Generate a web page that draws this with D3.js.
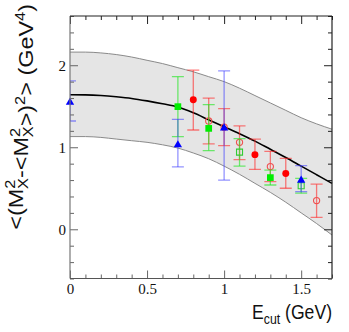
<!DOCTYPE html>
<html>
<head>
<meta charset="utf-8">
<script src="https://cdn.jsdelivr.net/npm/d3@7"></script>
<style>
body { margin: 0; background: #fff; }
</style>
</head>
<body>
<script>
var w = 349;
var h = 332;

// theory band
var bandE     = [0, 0.1, 0.2, 0.3, 0.4, 0.5, 0.6, 0.7, 0.8, 0.9, 1.0, 1.1, 1.2, 1.3, 1.4, 1.5, 1.6, 1.7];
var bandMid   = [1.64, 1.638, 1.63, 1.615, 1.595, 1.565, 1.53, 1.49, 1.42, 1.335, 1.25, 1.165, 1.075, 0.975, 0.875, 0.77, 0.665, 0.56];
var bandUpper = [2.16, 2.16, 2.15, 2.13, 2.10, 2.06, 2.02, 1.97, 1.92, 1.86, 1.80, 1.72, 1.63, 1.54, 1.45, 1.36, 1.285, 1.22];
var bandLower = [1.13, 1.13, 1.12, 1.10, 1.08, 1.06, 1.03, 0.99, 0.93, 0.86, 0.77, 0.67, 0.56, 0.45, 0.33, 0.20, 0.07, -0.07];

// measurements
var redFullE  = [0.8, 1.2, 1.4];
var redFullY  = [1.58, 0.91, 0.68];
var redFullHi = [1.94, 1.10, 0.865];
var redFullLo = [1.21, 0.73, 0.50];

var redOpenE  = [0.9, 1.0, 1.1, 1.3, 1.6];
var redOpenY  = [1.32, 1.245, 1.06, 0.765, 0.35];
var redOpenHi = [1.60, 1.47, 1.26, 0.95, 0.55];
var redOpenLo = [1.04, 1.02, 0.85, 0.58, 0.145];

var greenFullE  = [0.7, 0.9, 1.3];
var greenFullY  = [1.495, 1.23, 0.63];
var greenFullHi = [1.86, 1.52, 0.72];
var greenFullLo = [1.13, 0.96, 0.54];

var greenOpenE  = [1.1, 1.5];
var greenOpenY  = [0.94, 0.53];
var greenOpenHi = [1.105, 0.62];
var greenOpenLo = [0.77, 0.44];

var blueE  = [0.0, 0.7, 1.0, 1.5];
var blueY  = [1.56, 1.04, 1.245, 0.61];
var blueHi = [1.81, 1.34, 1.93, 0.775];
var blueLo = [1.32, 0.76, 0.60, 0.46];

var xMajor = [0, 0.5, 1, 1.5];
var xTickLabels = ["0", "0.5", "1", "1.5"];
var yMajor = [0, 1, 2];
var yTickLabels = ["0", "1", "2"];

var pLeft = 70, pRight = 332, pTop = 16, pBottom = 278.5;

var x = d3.scaleLinear().domain([0, 1.7]).range([pLeft, pRight]);
var y = d3.scaleLinear().domain([-0.6, 2.6]).range([pBottom, pTop]);

var svg = d3.select("body")
	.append("svg")
	.attr("width", w)
	.attr("height", h);

svg.append("clipPath").attr("id", "plot")
	.append("rect")
	.attr("x", pLeft).attr("y", pTop)
	.attr("width", pRight - pLeft).attr("height", pBottom - pTop);

// band
var band = bandE.map(function(e, i){ return {e: e, lo: bandLower[i], hi: bandUpper[i], mid: bandMid[i]}; });
svg.append("path")
	.datum(band)
	.attr("d", d3.area()
		.x(function(d){ return x(d.e); })
		.y0(function(d){ return y(d.lo); })
		.y1(function(d){ return y(d.hi); })
		.curve(d3.curveMonotoneX))
	.attr("fill", "#e5e5e5");

["lo", "hi"].forEach(function(k){
	svg.append("path")
		.datum(band)
		.attr("d", d3.line()
			.x(function(d){ return x(d.e); })
			.y(function(d){ return y(d[k]); })
			.curve(d3.curveMonotoneX))
		.attr("fill", "none")
		.attr("stroke", "#8a8a8a")
		.attr("stroke-width", 1);
});

svg.append("path")
	.datum(band)
	.attr("d", d3.line()
		.x(function(d){ return x(d.e); })
		.y(function(d){ return y(d.mid); })
		.curve(d3.curveMonotoneX))
	.attr("fill", "none")
	.attr("stroke", "#000")
	.attr("stroke-width", 1.6);

// error bars and markers
function series(E, Y, Hi, Lo, barColor, markColor, shape, open){
	var pts = E.map(function(e, i){ return {e: e, v: Y[i], hi: Hi[i], lo: Lo[i]}; });
	var g = svg.append("g");
	var bars = g.append("g").attr("clip-path", "url(#plot)");
	bars.selectAll(".v").data(pts).enter().append("line")
		.attr("x1", function(d){ return x(d.e); })
		.attr("x2", function(d){ return x(d.e); })
		.attr("y1", function(d){ return y(d.lo); })
		.attr("y2", function(d){ return y(d.hi); })
		.attr("stroke", barColor).attr("stroke-width", 1.3);
	["lo", "hi"].forEach(function(k){
		bars.selectAll(".c" + k).data(pts).enter().append("line")
			.attr("x1", function(d){ return x(d.e) - 6; })
			.attr("x2", function(d){ return x(d.e) + 6; })
			.attr("y1", function(d){ return y(d[k]); })
			.attr("y2", function(d){ return y(d[k]); })
			.attr("stroke", barColor).attr("stroke-width", 1.3);
	});
	var sym = d3.symbol().type(shape.type).size(shape.size);
	g.selectAll("path.m").data(pts).enter().append("path")
		.attr("transform", function(d){ return "translate(" + x(d.e) + "," + (y(d.v) + (shape.dy || 0)) + ")"; })
		.attr("d", sym)
		.attr("fill", open ? "none" : markColor)
		.attr("stroke", markColor)
		.attr("stroke-width", open ? 1.1 : 0);
}

series(redOpenE, redOpenY, redOpenHi, redOpenLo, "rgba(255,40,40,0.6)", "#f05050", {type: d3.symbolCircle, size: 30}, true);
series(redFullE, redFullY, redFullHi, redFullLo, "rgba(255,40,40,0.6)", "#ff0000", {type: d3.symbolCircle, size: 38}, false);
series(greenFullE, greenFullY, greenFullHi, greenFullLo, "rgba(40,230,40,0.65)", "#00ee00", {type: d3.symbolSquare, size: 45}, false);
series(greenOpenE, greenOpenY, greenOpenHi, greenOpenLo, "rgba(40,230,40,0.65)", "#33cc33", {type: d3.symbolSquare, size: 36}, true);
series(blueE, blueY, blueHi, blueLo, "rgba(60,60,255,0.55)", "#0000ff", {type: d3.symbolTriangle, size: 30, dy: 1}, false);

// axes
var yMinor = d3.range(-0.6, 2.61, 0.2).filter(function(v){ return Math.abs(v - Math.round(v)) > 0.01; });
var xMinor = d3.range(0, 1.71, 0.1).filter(function(v){ return Math.abs(v * 2 - Math.round(v * 2)) > 0.01; });

function styleAxis(g, color){
	g.select(".domain").remove();
	g.selectAll("line").attr("stroke", color);
	g.selectAll("text")
		.attr("font-family", "'Liberation Serif', serif")
		.attr("font-size", 15)
		.attr("fill", "#111");
}

svg.append("g").attr("transform", "translate(" + pLeft + ",0)")
	.call(d3.axisLeft(y).tickValues(yMajor).tickSize(-8).tickPadding(4)
		.tickFormat(function(d, i){ return yTickLabels[i]; }))
	.call(styleAxis, "#666");
svg.append("g").attr("transform", "translate(" + pLeft + ",0)")
	.call(d3.axisLeft(y).tickValues(yMinor).tickSize(-4).tickFormat(""))
	.call(styleAxis, "#666");
svg.append("g").attr("transform", "translate(" + pRight + ",0)")
	.call(d3.axisRight(y).tickValues(yMajor).tickSize(-8).tickFormat(""))
	.call(styleAxis, "#222");
svg.append("g").attr("transform", "translate(" + pRight + ",0)")
	.call(d3.axisRight(y).tickValues(yMinor).tickSize(-4).tickFormat(""))
	.call(styleAxis, "#222");

svg.append("g").attr("transform", "translate(0," + pBottom + ")")
	.call(d3.axisBottom(x).tickValues(xMajor).tickSize(-8).tickPadding(5)
		.tickFormat(function(d, i){ return xTickLabels[i]; }))
	.call(styleAxis, "#666");
svg.append("g").attr("transform", "translate(0," + pBottom + ")")
	.call(d3.axisBottom(x).tickValues(xMinor).tickSize(-4).tickFormat(""))
	.call(styleAxis, "#666");
svg.append("g").attr("transform", "translate(0," + pTop + ")")
	.call(d3.axisTop(x).tickValues(xMajor).tickSize(-8).tickFormat(""))
	.call(styleAxis, "#222");
svg.append("g").attr("transform", "translate(0," + pTop + ")")
	.call(d3.axisTop(x).tickValues(xMinor).tickSize(-4).tickFormat(""))
	.call(styleAxis, "#222");

// frame
svg.append("line").attr("x1", pLeft).attr("x2", pLeft).attr("y1", pTop).attr("y2", pBottom)
	.attr("stroke", "#777").attr("stroke-width", 1.2);
svg.append("line").attr("x1", pLeft).attr("x2", pRight).attr("y1", pBottom).attr("y2", pBottom)
	.attr("stroke", "#555").attr("stroke-width", 1.2);
svg.append("line").attr("x1", pLeft).attr("x2", pRight).attr("y1", pTop).attr("y2", pTop)
	.attr("stroke", "#222").attr("stroke-width", 1.2);
svg.append("line").attr("x1", pRight).attr("x2", pRight).attr("y1", pTop).attr("y2", pBottom)
	.attr("stroke", "#222").attr("stroke-width", 1.2);

// titles (squeezed horizontally to the reference's narrow lettering)
var xt = svg.append("text")
	.attr("text-anchor", "end")
	.attr("font-family", "'Liberation Sans', Arial, sans-serif")
	.attr("font-size", 20)
	.attr("fill", "#111");
xt.append("tspan").text("E");
xt.append("tspan").attr("dy", 5).attr("font-size", 14).text("cut");
xt.append("tspan").attr("dy", -5).text(" (GeV)");
var xs = 80 / xt.node().getBBox().width;
xt.attr("transform", "translate(" + pRight + ",319) scale(" + xs + ",1)");

var yt = svg.append("text")
	.attr("text-anchor", "end")
	.attr("font-family", "'Liberation Sans', Arial, sans-serif")
	.attr("font-size", 20)
	.attr("fill", "#111");
function mx2(t){
	t.append("tspan").text("M");
	t.append("tspan").attr("dy", -8).attr("font-size", 14).text("2");
	t.append("tspan").attr("dx", -8).attr("dy", 13).attr("font-size", 14).text("X");
	t.append("tspan").attr("dy", -5).text("");
}
yt.append("tspan").text("<(");
mx2(yt);
yt.append("tspan").text("-<");
mx2(yt);
yt.append("tspan").text(">)");
yt.append("tspan").attr("dy", -8).attr("font-size", 14).text("2");
yt.append("tspan").attr("dy", 8).text("> (GeV");
yt.append("tspan").attr("dy", -8).attr("font-size", 14).text("4");
yt.append("tspan").attr("dy", 8).text(")");
var ys = 226 / yt.node().getBBox().width;
yt.attr("transform", "translate(23,4) rotate(-90) scale(" + ys + ",1)");
</script>
</body>
</html>
